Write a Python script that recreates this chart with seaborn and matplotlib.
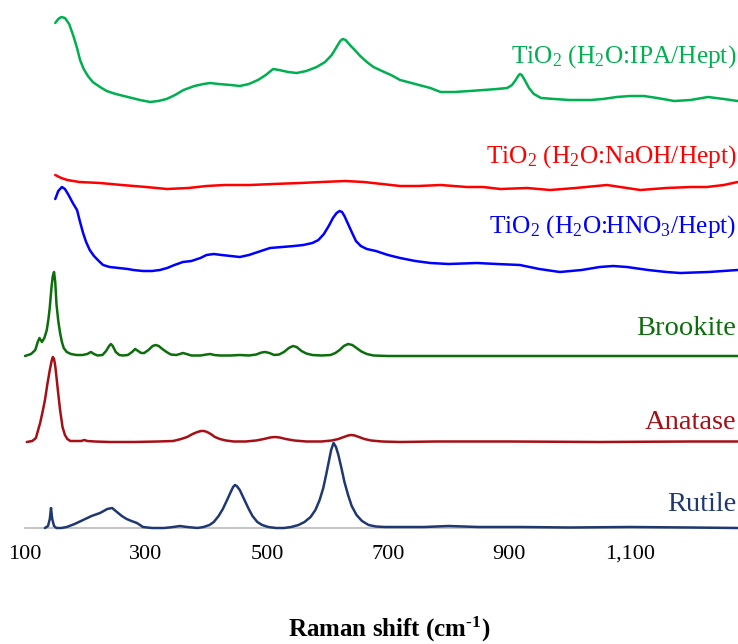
import matplotlib
matplotlib.use("Agg")
import matplotlib.pyplot as plt
import seaborn as sns
import pandas as pd

# ---------------- data (Raman shift in cm-1, intensity in arbitrary units) ----------------
rutile_x = [133, 138, 141, 143, 145, 148, 152, 160, 169, 182, 196, 210, 224, 236, 244, 252, 260, 268, 276, 285,
            295, 310, 330, 345, 356, 368, 385, 395, 405, 412, 420, 427, 434, 440, 444, 447, 450, 455, 462, 469,
            476, 484, 492, 502, 515, 528, 540, 552, 562, 572, 580, 587, 593, 598, 602, 606, 610, 614, 618, 623,
            628, 634, 640, 648, 657, 668, 680, 695, 720, 760, 800, 850, 920, 1000, 1100, 1200, 1278]
rutile_y = [0, 2, 9, 20, 9, 2, 0, 0, 1, 4, 8, 12, 15, 19, 20, 16, 12, 9, 7, 5,
            1, 0, 0, 1, 2, 1, 0, 1, 3, 6, 12, 19, 28, 36, 41, 43, 42, 38, 29, 20,
            12, 6, 3, 1, 0, 0, 1, 3, 6, 11, 18, 28, 40, 54, 66, 78, 85, 81, 73, 60,
            46, 33, 22, 13, 7, 3, 1.5, 1, 1, 1, 2, 1, 1, 0.5, 1, 0.5, 0]

anatase_x = [103, 112, 118, 125, 129, 133, 137, 141, 144, 146, 148, 150, 152, 155, 158, 162, 166, 170, 175, 185,
             193, 198, 203, 215, 240, 280, 320, 345, 358, 368, 377, 385, 391, 396, 401, 407, 414, 422, 432, 445,
             465, 482, 495, 505, 513, 521, 531, 545, 565, 590, 607, 618, 627, 634, 639, 645, 652, 661, 672, 690,
             720, 780, 900, 1050, 1200, 1278]
anatase_y = [0, 1, 4, 19, 30, 42, 58, 72, 81, 85, 83, 76, 65, 48, 32, 15, 7, 3, 1, 1,
             1, 2, 1, 0.5, 0, 0, 0.5, 1, 3, 5, 8, 10, 11, 11, 10, 8, 5, 3, 1.5, 0.5,
             0.5, 1.5, 3, 4.5, 5, 4.5, 3, 1.5, 0.5, 0.5, 1.5, 3, 5, 6.5, 7, 6.5, 5, 3, 1.5, 0.5,
             0, 0.5, 0.5, 0, 0.5, 0.5]

brookite_x = [100, 110, 117, 121, 124, 128, 132, 136, 139, 141, 144, 146, 148, 150, 152, 155, 158, 161, 164, 169,
              176, 185, 195, 203, 209, 214, 220, 228, 234, 239, 242, 245, 250, 256, 262, 270, 277, 282, 287, 292,
              297, 304, 311, 316, 321, 327, 334, 341, 350, 356, 361, 367, 375, 390, 400, 406, 413, 422, 440, 455,
              470, 482, 491, 497, 504, 512, 520, 528, 536, 543, 549, 557, 565, 575, 590, 605, 613, 620, 627, 634,
              641, 648, 656, 665, 676, 700, 800, 900, 1000, 1100, 1278]
brookite_y = [0, 2, 6, 14, 18, 14, 18, 26, 38, 49, 70, 80, 84, 74, 52, 35, 23, 14, 8, 4,
              2, 1, 1, 2, 4, 2, 0.5, 1, 5, 10, 12, 10, 4, 1, 0.5, 1, 4, 7, 5, 3,
              3, 6, 10, 11, 10, 7, 4, 1.5, 1, 2, 3, 2, 0.5, 0.5, 1.5, 2, 1, 0.5, 0.5, 1,
              0.5, 1.5, 3.5, 4, 3, 1, 1.5, 4, 8, 10, 9, 5, 2.5, 1, 0.5, 1, 3, 6, 10, 12,
              11, 8, 4.5, 2, 0.5, 0, 0, 0, 0, 0, 0]

hno3_x = [150, 155, 161, 166, 172, 179, 186, 191, 196, 201, 207, 214, 222, 229, 240, 255, 270, 279, 295, 310,
          323, 335, 347, 361, 375, 390, 400, 412, 425, 440, 455, 470, 485, 505, 525, 545, 560, 575, 585, 594,
          602, 609, 615, 620, 624, 628, 634, 640, 647, 655, 665, 680, 700, 720, 745, 770, 800, 847, 880, 918,
          950, 984, 1020, 1050, 1072, 1095, 1130, 1160, 1183, 1230, 1278]
hno3_y = [71, 79, 83, 81, 75, 67, 60, 48, 37, 28, 20, 14, 9, 5, 3, 2, 1, 0, -1, -1,
          0, 2, 5, 8, 9, 12, 15, 16, 15, 14, 13, 15, 18, 22, 23, 24, 25, 27, 30, 36,
          44, 52, 57, 59, 58, 54, 46, 38, 29, 24, 21, 19, 15, 12, 9, 7, 6, 7, 6, 5,
          1, -2, 0, 3, 4, 3, 0, -2, -3, -2, 0]

naoh_x = [150, 160, 170, 190, 224, 260, 300, 335, 370, 400, 430, 472, 510, 555, 590, 629, 660, 690, 720, 750,
          787, 830, 857, 886, 930, 968, 1010, 1062, 1117, 1160, 1200, 1227, 1255, 1278]
naoh_y = [13, 10, 8, 6, 5, 3, 1, -1, 0, 2, 3, 3, 4, 5, 6, 7, 6, 4, 2, 2,
          3, 1, 1, -1, 0, -2, 0, 3, -2, 0, 1, 1, 3, 6]

ipa_x = [150, 155, 160, 166, 173, 180, 186, 191, 197, 204, 212, 224, 235, 250, 270, 290, 307, 320, 334, 348,
         362, 380, 395, 406, 420, 440, 455, 470, 485, 498, 510, 520, 535, 549, 565, 582, 596, 607, 615, 621,
         625, 630, 637, 645, 654, 665, 676, 690, 705, 720, 745, 770, 787, 810, 835, 858, 880, 897, 905, 911,
         915, 918, 921, 926, 933, 941, 953, 975, 1000, 1013, 1035, 1055, 1078, 1100, 1123, 1145, 1173, 1200,
         1229, 1255, 1278]
ipa_y = [80, 84, 86, 85, 79, 67, 55, 43, 34, 27, 21, 16, 12, 9, 6, 3, 1, 2, 4, 8,
         13, 17, 19, 20, 19, 18, 17, 19, 23, 28, 34, 33, 31, 30, 32, 36, 41, 48, 56, 62,
         64, 63, 58, 53, 47, 41, 36, 32, 28, 23, 19, 15, 11, 11, 12, 13, 14, 15, 18, 23,
         27, 29, 28, 23, 15, 9, 5, 4, 3, 3, 3, 4, 6, 7, 7, 5, 2, 3,
         6, 4, 2]

names = ["Rutile", "Anatase", "Brookite", "HNO3", "NaOH", "IPA"]
series_x = [rutile_x, anatase_x, brookite_x, hno3_x, naoh_x, ipa_x]
series_y = [rutile_y, anatase_y, brookite_y, hno3_y, naoh_y, ipa_y]
offsets = [0, 86, 172, 258, 340, 425]
labels = ["Rutile", "Anatase", "Brookite",
          r"TiO$_2$ (H$_2$O:HNO$_3$/Hept)",
          r"TiO$_2$ (H$_2$O:NaOH/Hept)",
          r"TiO$_2$ (H$_2$O:IPA/Hept)"]
label_y = [17, 99, 193, 295, 365, 465]
colors = ["#1f3872", "#a50f15", "#0b6e0b", "#0000ff", "#ff0000", "#00b050"]
tick_pos = [100, 300, 500, 700, 900, 1100]
tick_lab = ["100", "300", "500", "700", "900", "1,100"]

# ---------------- build table ----------------
rows = []
for n, xs, ys, off in zip(names, series_x, series_y, offsets):
    for xv, yv in zip(xs, ys):
        rows.append({"shift": xv, "y": yv + off, "sample": n})
df = pd.DataFrame(rows)

sns.set_theme(style="white")
plt.rcParams["font.family"] = ["Liberation Serif", "DejaVu Serif"]
plt.rcParams["mathtext.default"] = "regular"

fig = plt.figure(figsize=(7.38, 6.44), dpi=100)
ax = fig.add_axes([25 / 738, 116 / 644, 713 / 738, 528 / 644])

sns.lineplot(data=df, x="shift", y="y", hue="sample", hue_order=names,
             palette=dict(zip(names, colors)), estimator=None, sort=False,
             linewidth=1.8, legend=False, ax=ax)
for ln in ax.lines:
    ln.set_clip_on(False)
    ln.set_solid_joinstyle("round")
    ln.set_zorder(3)

ax.set_xlim(100, 1278.5)
ax.set_ylim(0, 528)

for lab, yv, c, n in zip(labels, label_y, colors, names):
    fs = 20.5 if n in ("Rutile", "Anatase", "Brookite") else 18.3
    ax.text(1276, yv, lab, ha="right", va="baseline", color=c, fontsize=fs)

for s in ["left", "top", "right"]:
    ax.spines[s].set_visible(False)
ax.spines["bottom"].set_color("#bfbfbf")
ax.spines["bottom"].set_linewidth(1.3)
ax.spines["bottom"].set_zorder(1)
ax.set_yticks([])
ax.set_xticks(tick_pos)
ax.set_xticklabels(tick_lab)
ax.tick_params(axis="x", length=0, pad=12, labelsize=16, colors="black")
ax.set_xlabel("")
ax.set_ylabel("")

fig.text(389 / 738, 7 / 644, "Raman shift (cm$^{\u2010 1}$)", ha="center", va="baseline",
         fontsize=18, fontweight="bold", color="black")

fig.savefig("out.png", dpi=100)
